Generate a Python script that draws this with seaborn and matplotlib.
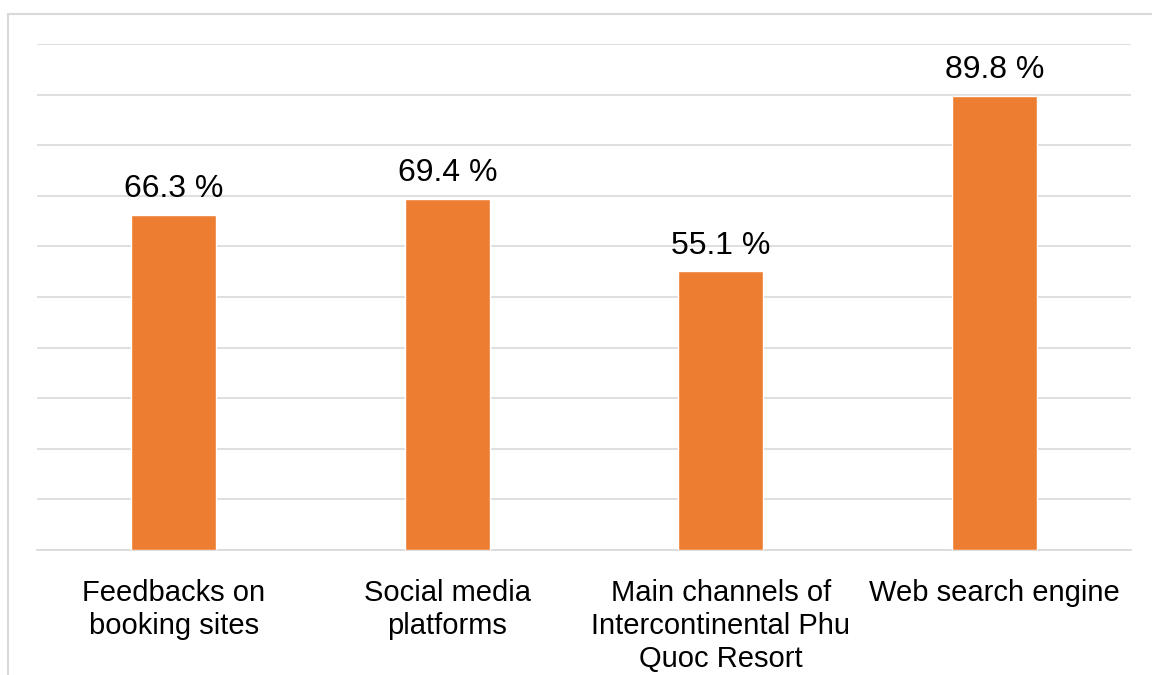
import matplotlib
matplotlib.use("Agg")
import matplotlib.pyplot as plt
import seaborn as sns
import pandas as pd
from matplotlib.patches import Rectangle

categories = [
    "Feedbacks on\nbooking sites",
    "Social media\nplatforms",
    "Main channels of\nIntercontinental Phu\nQuoc Resort",
    "Web search engine",
]
shares = [66.3, 69.4, 55.1, 89.8]
value_labels = ["66.3 %", "69.4 %", "55.1 %", "89.8 %"]

sns.set_theme(style="white")
plt.rcParams["font.family"] = ["Liberation Sans", "DejaVu Sans"]

df = pd.DataFrame({"channel": categories, "share": shares})

fig = plt.figure(figsize=(11.52, 6.75), dpi=100)
ax = fig.add_axes([37 / 1152, 1 - 550 / 675, (1131 - 37) / 1152, (550 - 44) / 675])

grid_color = "#d9d9d9"
sns.barplot(data=df, x="channel", y="share", color="#ED7D31", saturation=1,
            width=0.31, ax=ax, zorder=3)

ax.set_ylim(0, 100)
ax.set_yticks(range(0, 101, 10))
ax.yaxis.grid(True, color=grid_color, linewidth=1.2, zorder=0)
ax.set_axisbelow(True)
ax.tick_params(axis="y", left=False, labelleft=False)
ax.tick_params(axis="x", bottom=False, labelsize=21, colors="black", pad=15)
for lbl in ax.get_xticklabels():
    lbl.set_verticalalignment("top")
    lbl.set_linespacing(1.22)
ax.set_xlabel("")
ax.set_ylabel("")
for side in ["top", "right", "left"]:
    ax.spines[side].set_visible(False)
ax.spines["bottom"].set_color(grid_color)
ax.spines["bottom"].set_linewidth(1.2)

for patch, text in zip(ax.patches, value_labels):
    ax.annotate(text, (patch.get_x() + patch.get_width() / 2, patch.get_height()),
                xytext=(0, 12.5), textcoords="offset points",
                ha="center", va="baseline", fontsize=23, color="black")

# outer chart frame
fig.patches.append(Rectangle((8 / 1152, -0.1), 1.2, 1 - 14 / 675 + 0.1,
                             transform=fig.transFigure, fill=False,
                             edgecolor=grid_color, linewidth=1.5))

fig.savefig("out.png", dpi=100, facecolor="white")
